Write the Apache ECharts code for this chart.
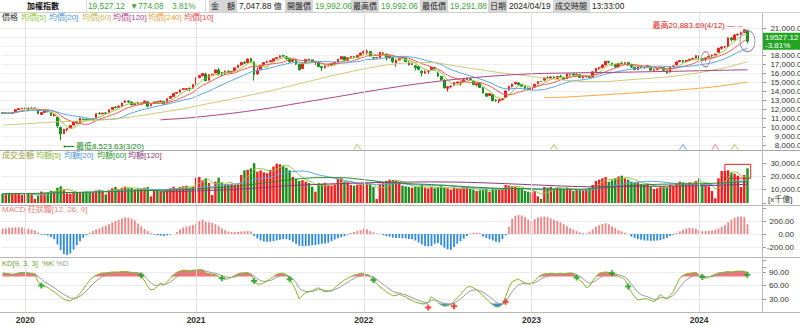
<!DOCTYPE html>
<html>
<head>
<meta charset="utf-8">
<script src="https://cdn.jsdelivr.net/npm/echarts@6.0.0/dist/echarts.min.js"></script>
<style>
html,body{margin:0;padding:0;background:#fff;overflow:hidden}
#chart{width:800px;height:325px}
</style>
</head>
<body>
<div id="chart"></div>
<script>
// ================= DATA =================
const headerTexts = ['加權指數','19,527.12','▼774.08','3.81%','金　額','7,047.88 億','開盤價','19,992.06','最高價','19,992.06','最低價','19,291.88','日期','2024/04/19','成交時間','13:33:00'];
const priceLegend = ['價格','均價[5]','均價[20]','均價[60]','均價[120]','均價[240]','均價[10]'];
const volumeLegend = ['成交金額','均額[5]','均額[20]','均額[60]','均額[120]'];
const macdTitle = 'MACD 柱狀體[12, 26, 9]';
const kdTitle = ['KD[9, 3, 3]','%K','%D'];
const volumeUnit = '[x千億]';
const yearLabels = ['2020','2021','2022','2023','2024'];
const firstWeek = '2019-11-15';
const slotCount = 236;
const lastClose = 19527.12;
const lastChangePct = '-3.81%';

// weekly candles: [open, close, low, high]
const candles2019 = [
 [11580,11520,11460,11650],[11520,11560,11450,11620],[11560,11490,11470,11620],[11500,11610,11440,11620],[11600,11930,11580,11940],
 [11930,12030,11900,12050],[12030,12080,11990,12120]];
const candles2020 = [
 [12080,12110,11990,12120],[12050,12020,11820,12180],[12030,12090,12020,12200],[12100,12118,12080,12150],[11900,11495,11420,11920],
 [11400,11610,11360,11640],[11620,11815,11600,11830],[11820,11690,11640,11860],[11610,11290,11220,11640],[11300,11320,11150,11520],
 [11100,10130,9890,11130],[9950,9234,8523.63,10060],[9260,9736,9200,9800],[9680,9820,9520,9830],[9900,10157,9900,10200],
 [10210,10597,10200,10620],[10590,10447,10330,10640],[10500,10992,10480,11000],[10860,10840,10730,10930],[10850,10814,10720,10950],
 [10830,10811,10780,10960],[10850,10943,10800,10970],[11000,11484,10990,11500],[11520,11480,11380,11660],[11450,11536,11440,11600],
 [11560,11541,11500,11650],[11560,11909,11540,11920],[11950,12170,11940,12200],[12200,12176,12050,12330],[12200,12305,12200,12400],
 [12300,12664,12300,12700],[12740,12894,12690,12960],[12890,12795,12690,12960],[12780,12457,12400,12820],[12500,12592,12420,12640],
 [12700,12608,12470,12800],[12550,12670,12500,12720],[12700,12875,12690,12960],[12800,12304,12190,12830],[12350,12515,12330,12580],
 [12600,12787,12590,12800],[12800,12763,12700,12900],[12800,12868,12780,12970],[12840,12546,12540,12860],[12650,13146,12650,13150],
 [13200,13404,13200,13440],[13400,13716,13400,13760],[13750,13845,13680,13880],[13870,14132,13840,14140],[14160,14261,14160,14330],
 [14200,14258,14100,14320],[14300,14280,13980,14390]];
const candles2021 = [
 [14300,14732,14290,14740],[14740,15463,14720,15500],[15500,15707,15400,15760],[15720,15946,15600,16000],[15880,15138,15100,16030],
 [15200,15802,15160,15820],[15810,15860,15760,15900],[16000,16341,15990,16380],[16340,15953,15700,16580],[16060,15950,15660,16120],
 [16000,16184,15800,16280],[16200,16070,16000,16300],[16100,16177,15870,16220],[16250,16571,16220,16580],[16600,16854,16580,16920],
 [16900,17158,16820,17230],[17180,17097,16980,17330],[17150,17567,17050,17600],[17600,17285,17100,17700],[17200,15827,15160,17300],
 [15900,16302,15800,16600],[16400,16870,16400,16900],[16950,17165,16880,17200],[17200,17213,17100,17400],[17250,17371,17170,17400],
 [17300,17591,17220,17600],[17600,17710,17550,17780],[17730,17913,17680,17950],[17920,17895,17800,18034],[17800,17572,17500,17900],
 [17600,17247,17130,17700],[17300,17527,17280,17560],[17530,16982,16900,17600],[16950,16375,16250,17050],[16500,17067,16480,17100],
 [17100,17516,17050,17550],[17520,17474,17330,17600],[17450,17276,17200,17500],[17200,17260,16900,17300],[17200,16705,16650,17250],
 [16700,16571,16230,16820],[16600,16781,16500,16820],[16800,16888,16750,17000],[16900,16987,16850,17050],[17000,17197,16900,17200],
 [17230,17528,17200,17550],[17550,17818,17500,17830],[17800,17369,17300,17850],[17400,17697,17300,17720],[17700,17826,17600,17900],
 [17830,17813,17600,17900],[17700,17946,17650,17960],[17950,18218,17940,18250]];
const candles2022 = [
 [18250,18367,18150,18500],[18300,18403,18100,18620],[18400,17900,17850,18450],[17700,17674,17500,17750],[17674,17690,17650,17700],
 [17700,18310,17700,18320],[18200,18232,18050,18330],[18100,17652,17400,18150],[17700,17899,17600,18000],[17700,17264,17100,17750],
 [17100,17432,16700,17500],[17450,17677,17400,17700],[17700,17699,17600,17800],[17600,17284,17200,17650],[17200,16899,16850,17300],
 [16950,17025,16900,17150],[16800,16592,16300,16900],[16700,16408,16300,16800],[16200,16020,15600,16300],[16000,16144,15900,16300],
 [16200,16266,15900,16300],[16400,16606,16350,16700],[16600,16460,16400,16700],[16000,15641,15600,16100],[15600,15277,15150,15700],
 [15200,14343,14300,15300],[14300,14464,13930,14550],[14500,14551,14300,14600],[14650,14944,14600,15000],[14900,15000,14800,15050],
 [14950,14974,14600,15050],[15000,15256,14950,15300],[15250,15408,15250,15500],[15350,15278,15150,15430],[15100,14696,14650,15150],
 [14700,14807,14500,14850],[14900,14401,14400,15000],[14350,13778,13750,14450],[13700,13424,13350,13750],[13500,13702,13420,13800],
 [13600,12901,12880,13620],[13000,12946,12800,13100],[12900,13026,12629,13080],[13050,13159,12950,13250],[13300,14007,13280,14050],
 [14100,14480,14050,14600],[14500,14778,14400,14800],[14800,14970,14700,15000],[14900,14705,14650,14950],[14720,14521,14500,14800],
 [14500,14264,14200,14550],[14300,14137,14060,14400]];
const candles2023 = [
 [14100,14358,14050,14400],[14400,14753,14380,14800],[14800,15033,14780,15100],[15050,15040,15000,15100],[15200,15443,15150,15500],
 [15450,15430,15300,15650],[15400,15551,15350,15650],[15550,15503,15400,15650],[15400,15608,15350,15650],[15650,15586,15500,15800],
 [15450,15301,15200,15500],[15400,15890,15380,15900],[15850,15868,15700,15900],[15900,15809,15700,15950],[15800,15810,15750,15950],
 [15800,15507,15450,15850],[15500,15579,15350,15700],[15600,15648,15500,15700],[15600,15502,15450,15700],[15550,16134,15530,16150],
 [16150,16505,16050,16550],[16550,16579,16350,16650],[16600,16894,16550,16950],[16900,17289,16850,17350],[17300,17214,17050,17350],
 [17100,16915,16800,17150],[16950,16665,16600,17000],[16700,17067,16650,17100],[17100,17030,16900,17250],[17050,17145,16900,17200],
 [17150,16894,16800,17250],[16850,16694,16550,16950],[16650,16382,16300,16700],[16400,16723,16350,16800],[16750,16601,16550,16800],
 [16650,16599,16450,16700],[16650,16804,16550,16900],[16750,16315,16300,16800],[16300,16354,16150,16450],[16400,16524,16300,16600],
 [16600,16617,16500,16700],[16600,16284,16250,16650],[16250,16001,15950,16300],[16100,16718,16050,16750],[16750,16775,16650,16900],
 [16900,17222,16850,17300],[17250,17395,17200,17450],[17400,17276,17150,17450],[17300,17383,17200,17450],[17400,17508,17300,17600],
 [17550,17616,17500,17700],[17650,17931,17620,17950]];
const candles2024 = [
 [17900,17594,17450,17950],[17600,17514,17350,17650],[17500,17681,17300,17700],[17700,17865,17650,17900],[17900,17986,17800,18050],
 [18000,18096,17950,18150],[18300,18760,18300,18800],[18750,18889,18600,18950],[18900,18935,18750,19000],[18950,19903,18900,19950],
 [19900,19682,19500,20000],[19700,20227,19600,20300],[20250,20294,20150,20400],[20300,20466,20250,20600],[20500,20796,20450,20883.69],
 [20750,19527.12,19291.88,20800]];

// weekly turnover (億)
const volume = [
 7000,6800,7200,6900,7600,7300,6200,7000,7400,6600,
 3000,5500,8600,7800,8000,9200,9000,11500,12500,9600,
 7200,7000,8400,8000,7600,8300,8500,8200,7800,9400,
 9800,9200,6500,9600,11000,12000,10500,11500,12300,11000,
 11300,10200,10800,10600,11500,12000,5000,9000,9500,9200,
 8800,10200,11000,12200,11000,12000,12500,13000,11500,12000,
 19000,19500,17000,18500,15000,6000,16000,19000,15500,14000,
 13500,14000,13500,14500,21000,24500,25000,26000,29800,23500,
 24500,23000,22300,24800,27300,29500,29000,28000,26500,24500,
 19500,18000,16500,17200,16000,15000,12300,8500,14800,14500,
 15000,13500,13000,14000,18000,18500,16000,15500,13500,13000,
 13800,14000,14500,15000,14000,12000,3000,14500,14800,16500,
 17500,17300,17000,15500,13000,12500,12000,11500,12300,12000,
 13500,11500,11000,12000,11000,12000,12500,11500,11000,10000,
 11500,11000,10500,11800,11500,10500,10000,9000,9500,10000,
 10500,8500,11000,10000,10500,10500,13500,13000,12500,12000,
 11500,10500,9000,8500,8000,9000,5000,3000,12000,11500,
 12000,11000,11500,11000,10500,11500,10000,9000,10500,10000,
 9500,10500,11500,13500,16500,17500,18500,19500,16000,17000,
 18500,19800,20500,18500,17500,16000,15000,15500,14000,13500,
 14500,12500,10500,11000,12000,12500,12000,13500,13000,14500,
 16000,15500,14000,15500,14500,16500,18500,14000,13000,12500,
 9000,3500,18500,24000,24000,24500,23000,22000,20500,12000,
 21000,26000];

// MACD histogram (OSC)
const macdHist = [
 80,88,95,100,103,104,100,92,82,70,
 55,22,-10,-15,-25,-50,-80,-160,-250,-310,
 -325,-300,-240,-170,-110,-60,-20,20,45,70,
 85,110,130,150,180,200,215,240,255,250,
 235,210,160,120,80,45,15,-10,-20,-25,
 -30,-20,-10,0,30,70,100,115,125,140,
 160,200,220,190,180,170,150,120,85,60,
 40,30,30,35,40,42,45,38,-30,-70,
 -100,-115,-120,-118,-110,-100,-90,-80,-80,-95,
 -120,-150,-180,-190,-185,-180,-175,-170,-160,-150,
 -145,-135,-110,-85,-65,-50,-35,-10,15,30,
 45,60,85,75,45,25,10,5,-15,-30,
 -40,-55,-60,-60,-65,-70,-75,-80,-100,-130,
 -160,-185,-190,-185,-150,-140,-170,-210,-235,-245,
 -200,-150,-110,-70,-30,10,20,20,15,-40,
 -60,-80,-100,-120,-130,-80,-20,110,230,280,
 290,285,260,220,200,230,255,265,270,260,
 240,220,200,180,150,120,90,70,45,25,
 15,10,40,70,110,135,155,165,150,120,
 95,60,40,20,5,-40,-60,-80,-90,-100,
 -100,-105,-105,-100,-95,-80,-60,-30,-10,15,
 40,65,85,95,90,80,60,45,45,50,
 55,65,85,110,140,180,220,250,265,270,
 260,150];

// KD
const kLine = [
 88,87,85,84,86,88,89,89,87,86,
 85,68,60,58,56,50,46,40,34,30,
 27,26,30,34,42,52,62,72,78,83,
 86,88,88,89,90,90,90,91,91,90,
 88,87,88,82,70,58,50,52,58,66,
 61,68,76,84,89,92,94,94,93,94,
 95,95,95,88,86,85,84,80,76,74,
 75,78,82,86,88,88,89,85,70,63,
 63,66,70,75,80,85,87,87,84,74,
 63,48,30,38,44,46,48,52,55,50,
 46,47,48,55,61,67,72,76,80,83,
 85,87,87,84,79,72,65,57,52,46,
 42,37,38,41,37,35,30,27,23,21,
 19,19,22,35,30,22,17,14,15,18,
 25,33,40,49,56,58,55,50,44,38,
 30,24,17,12,13,18,35,55,68,72,
 74,70,66,63,65,70,78,83,86,86,
 87,86,86,87,86,87,88,86,78,72,
 66,55,58,70,80,87,89,90,89,87,
 84,80,78,73,58,45,35,28,29,31,
 30,27,24,30,40,34,30,38,46,62,
 76,82,86,87,88,89,84,79,76,78,
 82,85,88,89,90,91,90,91,92,92,
 92,84];
const dLine = [
 85,86,86,85,85,86,87,88,88,87,
 86,80,74,68,64,60,55,50,45,40,
 36,32,32,32,36,41,48,56,63,70,
 75,80,82,85,86,88,88,89,90,90,
 89,89,88,86,81,73,66,61,60,62,
 62,64,68,73,79,83,87,89,90,92,
 93,94,94,92,90,88,87,85,82,79,
 78,78,79,82,84,85,86,86,81,75,
 71,69,70,71,74,78,81,83,83,80,
 75,66,54,49,47,47,47,49,51,51,
 49,48,48,51,54,58,63,67,72,75,
 79,81,83,84,82,79,74,68,63,57,
 52,47,44,43,41,39,36,33,30,27,
 24,23,22,27,28,26,23,20,18,18,
 21,25,30,36,43,48,50,50,48,45,
 40,35,29,23,20,19,24,35,46,55,
 61,64,65,64,64,66,70,75,78,81,
 83,84,85,85,86,86,87,87,84,80,
 75,69,65,67,71,76,81,84,86,86,
 85,84,82,79,72,63,54,45,40,37,
 35,32,29,30,33,33,32,34,38,46,
 56,65,72,77,81,83,84,82,80,79,
 80,82,84,86,87,88,89,90,90,91,
 91,89];
const deathCrossWeeks = [12,43,68,78,89,115,178,189,194,217,231];
const goldenCrossWeeks = [132,140,156];

// long moving averages read every 7th week (week 0, 7, 14 ...)
const ma60Every7 = [10220,10350,10510,10630,10720,10900,11230,11620,12030,12540,13030,13550,14100,14720,15330,15920,16450,16880,17140,17160,16800,16430,16050,15750,15450,15180,15030,15090,15300,15460,15730,16090,16600,17250];
const ma120Every7 = [null,null,null,null,null,null,null,10800,10960,11200,11480,11800,12170,12600,13020,13440,13870,14280,14660,14990,15280,15520,15710,15860,15960,16000,16040,16070,16110,16160,16200,16260,16310,16360];
const ma240Every7 = [null,null,null,null,null,null,null,null,null,null,null,null,null,null,null,null,null,null,null,null,null,null,null,null,13260,13330,13480,13630,13790,13950,14130,14330,14620,15000];
const volMa60Every7 = [7000,7100,7400,7900,8200,8600,9200,9500,10000,11000,12000,13800,16000,18000,19000,19000,17500,15500,14500,13800,12800,11800,11000,10800,10500,10300,10600,12000,13300,14000,14300,14500,15200,16000];
const volMa120Every7 = [null,null,null,null,null,null,null,8300,8700,9300,10000,11000,12200,13300,14000,14600,15100,15500,15700,15800,15700,15300,14700,14000,13300,12600,12200,12300,12500,12600,12700,13000,13500,14000];

// signal markers under the price panel (week index)
const signalMa60Weeks = [110,171,227];
const signalMa20Weeks = [211];
const signalMa10Weeks = [221];
// hand-drawn annotations
const circledWeeks = [218,231];
const circledPrices = [17530,19550];
const boxWeeks = [224,232];
const boxVolumes = [29000,18600];

// ================= BUILD =================
const FONT = '"Liberation Sans","Noto Sans CJK TC",sans-serif';
const RED = '#f21d1d', GREEN = '#16901a';
const C = {ma5:'#96c83c', ma10:'#f05a5a', ma20:'#5aa5e6', ma60:'#cfc878', ma120:'#a8467e', ma240:'#f5a742',
           vma5:'#90c840', vma20:'#5aa5e6', vma60:'#2a8a2a', vma120:'#8a3a7a'};
const DAY = 86400000;
const t0 = Date.parse(firstWeek + 'T00:00:00Z');
const weeks = [];
for (let i = 0; i < slotCount; i++) weeks.push(new Date(t0 + i * 7 * DAY).toISOString().slice(0, 10));
const tradeYear = w => String(new Date(Date.parse(w + 'T00:00:00Z') - DAY).getUTCFullYear());
const yearStartIdx = yearLabels.map(y => weeks.findIndex(w => tradeYear(w) === y));
const yearStartSet = new Set(yearStartIdx);

const candles = [].concat(candles2019, candles2020, candles2021, candles2022, candles2023, candles2024);
const closes = candles.map(c => c[1]);
function movingAverage(vals, n) {
  return vals.map((_, i) => {
    const s = Math.max(0, i - n + 1);
    let sum = 0;
    for (let j = s; j <= i; j++) sum += vals[j];
    return +(sum / (i - s + 1)).toFixed(2);
  });
}
function fromEvery7(samples) {
  const out = candles.map(() => null);
  samples.forEach((v, i) => { if (i * 7 < out.length) out[i * 7] = v; });
  return out;
}
const fmt2 = v => Number(v).toLocaleString('en-US', {minimumFractionDigits: 2, maximumFractionDigits: 2});
const mmdd = w => (+w.slice(5, 7)) + '/' + (+w.slice(8, 10));

let hiIdx = 0, loIdx = 0;
candles.forEach((c, i) => { if (c[3] > candles[hiIdx][3]) hiIdx = i; if (c[2] < candles[loIdx][2]) loIdx = i; });

// graphics (header, legends, frames)
const graphics = [];
function addText(x, y, text, fill, opt) {
  opt = opt || {};
  graphics.push({type: 'text', x: x, y: y, silent: true, z: 100,
    style: {text: text, fill: fill, fontSize: opt.size || 8, fontFamily: FONT, fontWeight: opt.bold ? 'bold' : 'normal',
      verticalAlign: 'middle', align: opt.align || 'left'}});
}
function addLine(x1, y1, x2, y2, color) {
  graphics.push({type: 'line', silent: true, z: 90, shape: {x1: x1, y1: y1, x2: x2, y2: y2}, style: {stroke: color, lineWidth: 1}});
}
function addRect(x, y, w, h, fill) {
  graphics.push({type: 'rect', silent: true, z: 80, shape: {x: x, y: y, width: w, height: h}, style: {fill: fill}});
}
const headerX = [27, 88, 130, 172, 209, 239, 285, 315, 351, 381, 420, 450, 488, 509, 553, 592];
const headerKind = ['title','quote','quote','quote','label','plain','label','quote','label','quote','label','quote','label','plain','label','plain'];
const headerLabelW = [0,0,0,0,28,0,28,0,28,0,28,0,19,0,37,0];
headerTexts.forEach((t, i) => {
  const k = headerKind[i];
  if (k === 'label') { addRect(headerX[i], 0, headerLabelW[i], 12, '#d6d6d6'); addText(headerX[i] + 2, 6, t, '#222'); }
  else if (k === 'title') addText(headerX[i], 6, t, '#111', {bold: true});
  else if (k === 'quote') addText(headerX[i], 6, t, '#3fa33f', {size: 8.3});
  else addText(headerX[i], 6, t, '#222', {size: 8.3});
});
addLine(86.5, 0, 86.5, 12, '#ddd');
addLine(205.5, 0, 205.5, 12, '#ddd');
addLine(0, 12.5, 800, 12.5, '#d0d0d0');

const priceLegendX = [2, 21, 49, 82, 113, 148, 184];
const priceLegendC = ['#333', C.ma5, '#4a96d8', '#c6b850', '#b0468a', '#f0a030', '#f04848'];
priceLegend.forEach((t, i) => addText(priceLegendX[i], 17.5, t, priceLegendC[i]));
const volLegendX = [2, 36, 64, 97, 128];
const volLegendC = ['#94a03c', '#8ab83a', '#4a96d8', '#2a9a2a', '#8a3a7a'];
volumeLegend.forEach((t, i) => addText(volLegendX[i], 155.5, t, volLegendC[i]));
addText(2, 209.5, macdTitle, '#f08080');
addText(2, 263, kdTitle[0], '#6aa030', {size: 7.6});
addText(42, 263, kdTitle[1], '#6aa030', {size: 7.6});
addText(56, 263, kdTitle[2], '#999', {size: 7.6});
addText(768, 199, volumeUnit, '#333', {size: 8});

// frames
addLine(0, 150.5, 800, 150.5, '#a8a8a8');
addLine(0, 205.5, 800, 205.5, '#b8b8b8');
addLine(0, 257.5, 800, 257.5, '#b8b8b8');
addLine(0, 312.5, 800, 312.5, '#b8b8b8');
addLine(762.5, 13, 762.5, 312.5, '#b8b8b8');

function lineSeries(name, g, data, color, extra) {
  return Object.assign({name: name, type: 'line', xAxisIndex: g, yAxisIndex: g, data: data, symbol: 'none',
    lineStyle: {color: color, width: 1}, itemStyle: {color: color}, silent: true}, extra || {});
}
const plusPath = 'path://M2,0H4V2H6V4H4V6H2V4H0V2H2Z';
const chevron = 'path://M0,5L4,0L8,5';

const kHigh = kLine.map(v => Math.max(v - 80, 0));
const kLowBase = kLine.map(v => Math.min(v, 20));
const kLowFill = kLine.map(v => 20 - Math.min(v, 20));

const yCommon = (g, extra) => Object.assign({type: 'value', gridIndex: g, position: 'right', scale: false,
  axisLine: {show: false}, axisTick: {show: true, length: 4, lineStyle: {color: '#999'}},
  splitLine: {show: true, showMinLine: false, showMaxLine: false, lineStyle: {color: '#ececec', width: 1}}}, extra);

const option = {
  animation: false,
  backgroundColor: '#fff',
  textStyle: {fontFamily: FONT},
  grid: [
    {left: 1, right: 38, top: 28, height: 117, outerBoundsMode: 'none'},
    {left: 1, right: 38, top: 163, height: 40, outerBoundsMode: 'none'},
    {left: 1, right: 38, top: 208, height: 52, outerBoundsMode: 'none'},
    {left: 1, right: 38, top: 267.5, height: 45, outerBoundsMode: 'none'},
    {left: 1, right: 38, top: 13, height: 299.5, outerBoundsMode: 'none'}
  ],
  xAxis: [0, 1, 2, 3, 4].map(g => ({
    type: 'category', gridIndex: g, data: weeks, boundaryGap: true, show: g === 3,
    axisLine: {show: false}, axisTick: {show: false}, splitLine: {show: false},
    axisLabel: g === 3 ? {show: true, interval: i => yearStartSet.has(i), formatter: v => tradeYear(v),
      fontSize: 8.5, fontWeight: 'bold', color: '#333', margin: 3, hideOverlap: false} : {show: false}
  })),
  yAxis: [
    yCommon(0, {min: 8000, max: 21000, interval: 1000,
      splitLine: {show: true, showMinLine: true, showMaxLine: true, lineStyle: {color: '#f0f0f0'}},
      axisLabel: {formatter: v => Math.abs(v - lastClose) < 900 ? '' : fmt2(v), fontSize: 8, color: '#333', align: 'right', margin: 44, hideOverlap: false}}),
    yCommon(1, {min: 0, max: 30000, interval: 10000,
      axisLabel: {formatter: v => v === 0 ? '' : fmt2(v), fontSize: 8, color: '#333', align: 'right', margin: 44, hideOverlap: false}}),
    yCommon(2, {min: -400, max: 400, interval: 200,
      axisLabel: {formatter: v => Math.abs(v) === 400 ? '' : v.toFixed(2), fontSize: 8, color: '#333', align: 'right', margin: 32, hideOverlap: false}}),
    yCommon(3, {min: 0, max: 100, interval: 30,
      axisLabel: {formatter: v => (v === 30 || v === 60 || v === 90) ? v.toFixed(2) : '', fontSize: 8, color: '#333', align: 'right', margin: 27, hideOverlap: false}}),
    {type: 'value', gridIndex: 4, show: false, min: 0, max: 1}
  ],
  series: [
    // year grid lines across all panels
    {type: 'line', xAxisIndex: 4, yAxisIndex: 4, data: weeks.map(() => null), silent: true, z: 0,
      markLine: {silent: true, symbol: ['none', 'none'], label: {show: false}, animation: false,
        lineStyle: {color: '#e2e2e2', width: 1, type: 'solid'},
        data: yearStartIdx.map(i => ({xAxis: weeks[i]}))}},
    // candles
    {name: '價格', type: 'candlestick', xAxisIndex: 0, yAxisIndex: 0, data: candles, barWidth: 2.2, silent: true,
      itemStyle: {color: RED, color0: GREEN, borderColor: RED, borderColor0: GREEN, borderWidth: 1},
      markPoint: {silent: true, animation: false, data: [
        {coord: [weeks[hiIdx], candles[hiIdx][3]], symbol: 'circle', symbolSize: 0,
          label: {show: true, position: 'left', distance: 1, offset: [0, -4], color: '#e02020', fontSize: 8,
            formatter: '最高' + fmt2(candles[hiIdx][3]) + '(' + mmdd(weeks[hiIdx]) + ') —→'}},
        {coord: [weeks[loIdx], candles[loIdx][2]], symbol: 'circle', symbolSize: 0,
          label: {show: true, position: 'right', distance: 2, offset: [0, 6], color: '#1a8a1a', fontSize: 8,
            formatter: '⟵ 最低' + fmt2(candles[loIdx][2]) + '(' + mmdd(weeks[loIdx]) + ')'}},
        {coord: [weeks[circledWeeks[0]], circledPrices[0]], symbol: 'circle', symbolSize: [9, 15],
          itemStyle: {color: 'rgba(0,0,0,0)', borderColor: '#9a88a8', borderWidth: 1}, label: {show: false}},
        {coord: [weeks[circledWeeks[1]], circledPrices[1]], symbol: 'circle', symbolSize: [15, 21],
          itemStyle: {color: 'rgba(0,0,0,0)', borderColor: '#9a88a8', borderWidth: 1}, label: {show: false}}
      ]},
      markLine: {silent: true, symbol: ['none', 'none'], animation: false, z: 10,
        lineStyle: {color: 'rgba(0,0,0,0)', width: 0.01, type: 'solid'},
        data: [{yAxis: lastClose}],
        label: {show: true, position: 'end', distance: 1, opacity: 1, formatter: fmt2(lastClose).replace(',', '') + '\n' + lastChangePct,
          backgroundColor: '#23a523', color: '#ffffff', fontSize: 8, lineHeight: 8.5, padding: [0, 2], width: 36}}},
    lineSeries('MA5', 0, movingAverage(closes, 5), C.ma5),
    lineSeries('MA10', 0, movingAverage(closes, 10), C.ma10),
    lineSeries('MA20', 0, movingAverage(closes, 20), C.ma20),
    lineSeries('MA60', 0, fromEvery7(ma60Every7), C.ma60, {connectNulls: true, smooth: 0.3}),
    lineSeries('MA120', 0, fromEvery7(ma120Every7), C.ma120, {connectNulls: true, smooth: 0.3}),
    lineSeries('MA240', 0, fromEvery7(ma240Every7), C.ma240, {connectNulls: true, smooth: 0.3}),
    // signal chevrons
    {type: 'scatter', xAxisIndex: 0, yAxisIndex: 0, clip: false, silent: true, symbol: chevron, symbolSize: [7, 5],
      itemStyle: {color: 'rgba(0,0,0,0)', borderColor: '#c2c070', borderWidth: 1}, data: signalMa60Weeks.map(i => [weeks[i], 7780])},
    {type: 'scatter', xAxisIndex: 0, yAxisIndex: 0, clip: false, silent: true, symbol: chevron, symbolSize: [7, 5],
      itemStyle: {color: 'rgba(0,0,0,0)', borderColor: '#78a8e0', borderWidth: 1}, data: signalMa20Weeks.map(i => [weeks[i], 7780])},
    {type: 'scatter', xAxisIndex: 0, yAxisIndex: 0, clip: false, silent: true, symbol: chevron, symbolSize: [7, 5],
      itemStyle: {color: 'rgba(0,0,0,0)', borderColor: '#f08a8a', borderWidth: 1}, data: signalMa10Weeks.map(i => [weeks[i], 7780])},
    // volume
    {name: '成交金額', type: 'bar', xAxisIndex: 1, yAxisIndex: 1, data: volume, barWidth: 2.4, silent: true,
      itemStyle: {color: p => candles[p.dataIndex][1] >= candles[p.dataIndex][0] ? RED : GREEN}},
    // hand-drawn box over the latest turnover bars
    {type: 'line', xAxisIndex: 1, yAxisIndex: 1, data: weeks.map(() => null), silent: true, z: 6,
      markArea: {silent: true, animation: false, itemStyle: {color: 'rgba(0,0,0,0)', borderColor: '#e02020', borderWidth: 1},
        data: [[{xAxis: weeks[boxWeeks[0]], yAxis: boxVolumes[0]}, {xAxis: weeks[boxWeeks[1]], yAxis: boxVolumes[1]}]]}},
    lineSeries('均額5', 1, movingAverage(volume, 5), C.vma5),
    lineSeries('均額20', 1, movingAverage(volume, 20), C.vma20),
    lineSeries('均額60', 1, fromEvery7(volMa60Every7), C.vma60, {connectNulls: true, smooth: 0.3}),
    lineSeries('均額120', 1, fromEvery7(volMa120Every7), C.vma120, {connectNulls: true, smooth: 0.3}),
    // MACD
    {name: 'MACD', type: 'bar', xAxisIndex: 2, yAxisIndex: 2, data: macdHist, barWidth: 1.8, silent: true,
      itemStyle: {color: p => p.value >= 0 ? '#f28484' : '#2f8be0'}},
    // KD fills
    lineSeries('kbase', 3, kLine.map(() => 80), 'rgba(0,0,0,0)', {stack: 'hi', lineStyle: {opacity: 0}}),
    lineSeries('khigh', 3, kHigh, 'rgba(0,0,0,0)', {stack: 'hi', lineStyle: {opacity: 0}, areaStyle: {color: '#f27474', opacity: 1}}),
    lineSeries('klowbase', 3, kLowBase, 'rgba(0,0,0,0)', {stack: 'lo', lineStyle: {opacity: 0}}),
    lineSeries('klowfill', 3, kLowFill, 'rgba(0,0,0,0)', {stack: 'lo', lineStyle: {opacity: 0}, areaStyle: {color: '#3a8ee0', opacity: 1}}),
    lineSeries('%D', 3, dLine, '#9a9a9a'),
    lineSeries('%K', 3, kLine, '#86b42c'),
    {type: 'scatter', xAxisIndex: 3, yAxisIndex: 3, silent: true, symbol: plusPath, symbolSize: 6,
      itemStyle: {color: '#159a1a'}, data: deathCrossWeeks.map(i => [weeks[i], kLine[i]]), z: 5},
    {type: 'scatter', xAxisIndex: 3, yAxisIndex: 3, silent: true, symbol: plusPath, symbolSize: 6, symbolOffset: [0, 5],
      itemStyle: {color: '#e81c1c'}, data: goldenCrossWeeks.map(i => [weeks[i], kLine[i]]), z: 5}
  ],
  graphic: graphics
};

const chart = echarts.init(document.getElementById('chart'), null, {renderer: 'svg', width: 800, height: 325});
chart.setOption(option);
</script>
</body>
</html>
